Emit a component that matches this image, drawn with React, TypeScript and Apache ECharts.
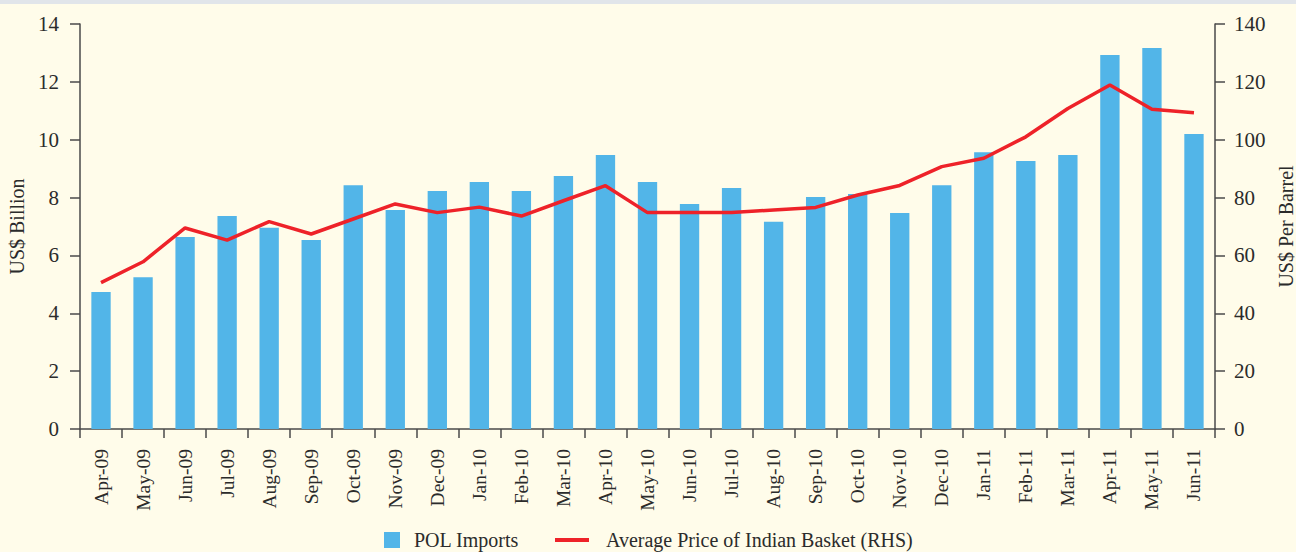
import React, { useEffect, useRef } from "react";
import * as echarts from "echarts";

const categories = [
  "Apr-09", "May-09", "Jun-09", "Jul-09", "Aug-09", "Sep-09", "Oct-09", "Nov-09", "Dec-09",
  "Jan-10", "Feb-10", "Mar-10", "Apr-10", "May-10", "Jun-10", "Jul-10", "Aug-10", "Sep-10",
  "Oct-10", "Nov-10", "Dec-10", "Jan-11", "Feb-11", "Mar-11", "Apr-11", "May-11", "Jun-11",
];

const polImports = [
  4.74, 5.25, 6.64, 7.36, 6.96, 6.53, 8.43, 7.57, 8.23,
  8.54, 8.23, 8.75, 9.47, 8.54, 7.78, 8.33, 7.16, 8.02,
  8.12, 7.47, 8.43, 9.57, 9.26, 9.47, 12.93, 13.17, 10.2,
];

const basketPrice = [
  50.6, 57.8, 69.5, 65.3, 71.7, 67.4, 72.6, 77.8, 74.8,
  76.7, 73.6, 78.9, 84.1, 74.8, 74.8, 74.8, 75.7, 76.6,
  80.9, 84.2, 90.7, 93.6, 101.0, 110.8, 118.9, 110.5, 109.3,
];

const FONT = "Liberation Serif";
const TEXT = "#2b2b2b";
const AXIS = "#4a4a4a";

export default function App() {
  const ref = useRef<HTMLDivElement>(null);

  useEffect(() => {
    if (!ref.current) return;
    const chart = echarts.init(ref.current, null, { renderer: "svg" });
    chart.setOption({
      animation: false,
      backgroundColor: "#FFFCEA",
      textStyle: { fontFamily: FONT, color: TEXT },
      graphic: [
        { type: "rect", left: 0, top: 0, shape: { width: 1296, height: 4 }, style: { fill: "#E1E5EA" } },
      ],
      grid: { left: 80, right: 81, top: 24, bottom: 123, outerBoundsMode: "none", containLabel: false },
      legend: [
        {
          data: ["POL Imports"],
          left: 379,
          top: 525,
          icon: "rect",
          itemWidth: 16,
          itemHeight: 16,
          textStyle: { fontFamily: FONT, fontSize: 20, color: TEXT, padding: [0, 0, 0, 9] },
        },
        {
          data: ["Average Price of Indian Basket (RHS)"],
          left: 550,
          top: 525,
          icon: "rect",
          itemWidth: 34,
          itemHeight: 4,
          textStyle: { fontFamily: FONT, fontSize: 20, color: TEXT, padding: [0, 0, 0, 12] },
        },
      ],
      xAxis: {
        type: "category",
        data: categories,
        axisLine: { lineStyle: { color: AXIS, width: 1.5 } },
        axisTick: { show: true, length: 9, lineStyle: { color: AXIS, width: 1.5 } },
        axisLabel: {
          rotate: 90,
          interval: 0,
          margin: 20,
          fontFamily: FONT,
          fontSize: 19.5,
          color: TEXT,
        },
      },
      yAxis: [
        {
          type: "value",
          min: 0,
          max: 14,
          interval: 2,
          name: "US$ Billion",
          nameLocation: "middle",
          nameRotate: 90,
          nameGap: 52,
          nameTextStyle: { fontFamily: FONT, fontSize: 20, color: TEXT },
          axisLine: { show: true, lineStyle: { color: AXIS, width: 1.5 } },
          axisTick: { show: true, length: 10, lineStyle: { color: AXIS, width: 1.5 } },
          axisLabel: { margin: 21, fontFamily: FONT, fontSize: 21, color: TEXT },
          splitLine: { show: false },
        },
        {
          type: "value",
          min: 0,
          max: 140,
          interval: 20,
          name: "US$ Per Barrel",
          nameLocation: "middle",
          nameRotate: 90,
          nameGap: 58,
          nameTextStyle: { fontFamily: FONT, fontSize: 20, color: TEXT },
          axisLine: { show: true, lineStyle: { color: AXIS, width: 1.5 } },
          axisTick: { show: true, length: 10, lineStyle: { color: AXIS, width: 1.5 } },
          axisLabel: { margin: 19, fontFamily: FONT, fontSize: 21, color: TEXT },
          splitLine: { show: false },
        },
      ],
      series: [
        {
          name: "POL Imports",
          type: "bar",
          data: polImports,
          barWidth: "46%",
          itemStyle: { color: "#52B5E8" },
        },
        {
          name: "Average Price of Indian Basket (RHS)",
          type: "line",
          yAxisIndex: 1,
          data: basketPrice,
          symbol: "none",
          lineStyle: { color: "#EE2229", width: 3.5 },
          itemStyle: { color: "#EE2229" },
        },
      ],
    });
    return () => chart.dispose();
  }, []);

  return (
    <div
      ref={ref}
      style={{ position: "absolute", left: 0, top: 0, width: 1296, height: 552 }}
    />
  );
}
